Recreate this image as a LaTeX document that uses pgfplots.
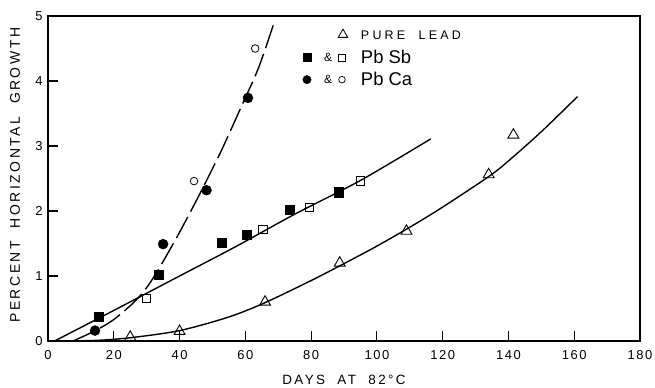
\documentclass[border=0pt]{standalone}
\usepackage{fontspec}
\setmainfont{Liberation Sans}
\newfontfamily\spaced[LetterSpace=18]{Liberation Sans}
\newfontfamily\tickfont[LetterSpace=12]{Liberation Sans}
\newfontfamily\leadfont[LetterSpace=26]{Liberation Sans}
\usepackage{pgfplots}
\pgfplotsset{compat=1.18}

\begin{document}
\begin{tikzpicture}
\begin{axis}[
  scale only axis, width=592bp, height=325bp,
  xmin=0, xmax=180, ymin=0, ymax=5,
  xtick={0,20,...,180}, ytick={0,1,2,3,4,5},
  tick align=inside, tick pos=left, major tick length=10bp,
  axis line style={line width=1.2pt},
  every tick/.style={black, line width=1.1pt},
  /pgf/number format/assume math mode=true,
  ticklabel style={font=\tickfont\fontsize{13}{15}\selectfont},
  xticklabel style={yshift=-6bp},
  yticklabel style={xshift=-2bp},
  xlabel={\spaced\fontsize{13.5}{15}\selectfont DAYS\ \ AT\ \ 82°C},
  xlabel style={at={(axis description cs:0.5,0)}, anchor=center, yshift=-39bp},
  ylabel={\spaced\fontsize{14}{16}\selectfont PERCENT\ \ HORIZONTAL\ \ GROWTH},
  ylabel style={at={(axis description cs:-0.0557,0.51)}, anchor=center},
  legend cell align=left,
  legend style={at={(axis description cs:0.427,0.974)}, anchor=north west, draw=none, fill=none,
     inner sep=0pt, column sep=0pt, row sep=0pt, nodes={inner sep=0pt}},
  clip=false,
]
% Legend entries
\addlegendimage{legend image code/.code={
   \path[draw=none, fill=none] (-6bp,-11bp) rectangle (54bp,11bp);
   \draw[black, line width=0.8pt, mark=triangle, mark size=5.5bp] plot coordinates {(36bp,1bp)};}}
\addlegendentry{\leadfont\fontsize{12.5}{14}\selectfont PURE\ \ LEAD}
\addlegendimage{legend image code/.code={
   \path[draw=none, fill=none] (-6bp,-11bp) rectangle (54bp,11bp);
   \draw[black, fill=black, mark=square*, mark size=4bp] plot coordinates {(0bp,0bp)};
   \node[inner sep=0pt, font=\fontsize{12}{12}\selectfont] at (17bp,-0.5bp) {\&};
   \draw[black, line width=0.7pt, mark=square, mark size=3.3bp] plot coordinates {(35bp,0bp)};}}
\addlegendentry{\fontsize{18.5}{20}\selectfont Pb Sb}
\addlegendimage{legend image code/.code={
   \path[draw=none, fill=none] (-6bp,-11bp) rectangle (54bp,11bp);
   \draw[black, fill=black, mark=*, mark size=4.2bp] plot coordinates {(0bp,0bp)};
   \node[inner sep=0pt, font=\fontsize{12}{12}\selectfont] at (17bp,-0.5bp) {\&};
   \draw[black, line width=0.7pt, mark=o, mark size=3.3bp] plot coordinates {(35bp,0bp)};}}
\addlegendentry{\fontsize{18.5}{20}\selectfont Pb Ca}

% Curves
\addplot[black, line width=1.4pt, smooth, no markers, forget plot] coordinates {
 (4,0) (15,0.01) (25,0.05) (40,0.16) (55,0.37) (66,0.59) (80,0.93) (90,1.19)
 (100,1.46) (110,1.75) (120,2.06) (134,2.53) (140,2.77) (150,3.22) (161,3.76)};
\addplot[black, line width=1.4pt, smooth, no markers, forget plot] coordinates {
 (2,0) (20,0.47) (40,1.0) (57,1.45) (75,1.95) (95,2.47) (116.4,3.11)};
\addplot[black, line width=1.4pt, smooth, no markers, forget plot, dash pattern=on 24bp off 6bp] coordinates {
 (7.6,0) (14,0.15) (20,0.33) (27,0.64) (32,0.97) (39,1.58) (45,2.15) (49,2.55)
 (53,2.96) (59,3.63) (64,4.2) (68.7,4.89)};

% Pure lead triangles
\addplot[only marks, forget plot, mark=triangle, mark size=6.3bp,
  mark options={black, line width=0.9pt, fill=white}] coordinates {
 (25,0.06) (40,0.15) (66,0.6) (88.7,1.2) (109,1.69) (134,2.56) (141.5,3.17)};
% Pb Sb filled squares
\addplot[only marks, forget plot, mark=square*, mark size=4.6bp,
  mark options={black, fill=black}] coordinates {
 (15.5,0.38) (33.7,1.02) (52.8,1.51) (60.3,1.63) (73.4,2.02) (88.3,2.29)};
% Pb Sb open squares
\addplot[only marks, forget plot, mark=square, mark size=4.2bp,
  mark options={black, line width=0.8pt, fill=white}] coordinates {
 (30,0.66) (65.3,1.72) (79.5,2.06) (94.9,2.46)};
% Pb Ca filled circles
\addplot[only marks, forget plot, mark=*, mark size=5bp,
  mark options={black, fill=black}] coordinates {
 (14.3,0.16) (35,1.49) (48.2,2.32) (60.8,3.74)};
% Pb Ca open circles
\addplot[only marks, forget plot, mark=o, mark size=3.8bp,
  mark options={black, line width=0.8pt, fill=white}] coordinates {
 (44.4,2.46) (63,4.5)};
\end{axis}
\pgfresetboundingbox
\path (-48bp,-47bp) rectangle (607bp,341bp);
\end{tikzpicture}
\end{document}
